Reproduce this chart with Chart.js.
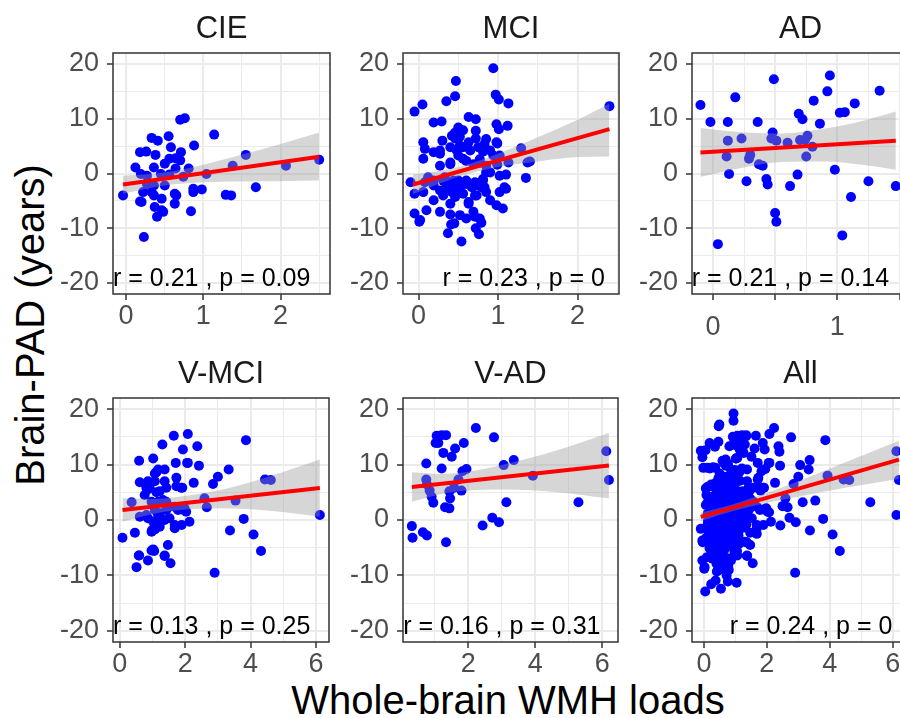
<!DOCTYPE html>
<html>
<head>
<meta charset="utf-8">
<script src="https://cdn.jsdelivr.net/npm/chart.js@4.4.0/dist/chart.umd.min.js"></script>
<style>
  html, body { margin: 0; padding: 0; overflow: hidden; background: #fff; }
  #wrap { position: relative; width: 900px; height: 718px; overflow: hidden; background: #fff; }
  canvas { position: absolute; }
  .axtitle { position: absolute; font-family: 'Liberation Sans', Arial, sans-serif; font-size: 40px; color: #000; white-space: nowrap; }
  #ytitle { left: 30px; top: 325px; transform: translate(-50%, -50%) rotate(-90deg); }
  #xtitle { left: 508px; top: 700px; transform: translate(-50%, -50%); }
</style>
</head>
<body>
<div id="wrap">
  <div class="axtitle" id="ytitle">Brain-PAD (years)</div>
  <div class="axtitle" id="xtitle">Whole-brain WMH loads</div>
</div>
<script>
// ---- data ----
const panelNames = ['CIE', 'MCI', 'AD', 'V-MCI', 'V-AD', 'All'];
const statLabels = ['r = 0.21 , p = 0.09', 'r = 0.23 , p = 0', 'r = 0.21 , p = 0.14',
                    'r = 0.13 , p = 0.25', 'r = 0.16 , p = 0.31', 'r = 0.24 , p = 0'];
const statX = [-0.17, 0.3, -0.17, -0.21, 0.06, 0.82];
const statY = -19.3;

const yMajor = [-20, -10, 0, 10, 20];
const yMinor = [-15, -5, 5, 15];
const yRange = [-22, 22];

const xRanges = [[-0.17, 2.64], [-0.195, 2.52], [-0.168, 1.576], [-0.21, 6.4], [0.056, 6.47], [-0.38, 6.52]];
const xMajor = [[0, 1, 2], [0, 1, 2], [0, 0.5, 1, 1.5], [0, 2, 4, 6], [2, 4, 6], [0, 2, 4, 6]];
const xMinor = [[0.5, 1.5, 2.5], [0.5, 1.5, 2.5], [0.25, 0.75, 1.25], [1, 3, 5], [1, 3, 5], [1, 3, 5]];
const xLabelled = [[0, 1, 2], [0, 1, 2], [0, 1], [0, 2, 4, 6], [2, 4, 6], [0, 2, 4, 6]];

const ciePoints = [[-0.04,-4.0],[0.23,-11.6],[0.70,9.8],[0.76,10.1],[1.14,7.1],[0.33,6.5],[0.41,6.0],[0.55,6.8],
  [0.88,5.1],[0.18,3.9],[0.26,4.0],[0.38,3.4],[0.58,4.8],[0.71,3.9],[0.56,2.7],[0.64,2.8],[0.70,2.4],[0.50,1.8],
  [0.12,1.1],[0.36,1.1],[0.64,0.9],[0.81,0.9],[0.19,-0.1],[0.27,-0.4],[0.45,-0.1],[0.56,-0.2],[0.74,-0.6],
  [1.04,-0.1],[1.38,1.4],[1.55,3.4],[2.07,1.4],[2.50,2.5],[1.68,-2.5],[0.27,-1.9],[0.36,-2.2],[0.50,-2.2],
  [0.22,-3.4],[0.33,-3.4],[0.63,-3.7],[0.87,-2.8],[0.98,-2.9],[0.87,-3.4],[1.29,-3.9],[1.36,-4.0],[0.18,-5.1],
  [0.36,-4.0],[0.46,-4.6],[0.63,-5.5],[0.37,-6.1],[0.46,-6.7],[0.40,-7.9],[0.48,-7.0],[0.84,-6.9],[0.65,-4.0],[0.20,-5.2]];

const mciPoints = [[0.94,19.2],[0.47,16.9],[0.46,14.1],[0.35,13.2],[-0.05,11.3],[0.05,12.6],[0.97,14.4],[1.01,13.5],
  [1.13,12.8],[0.19,9.3],[0.29,9.5],[0.63,10.3],[0.72,9.9],[0.50,8.4],[0.56,7.9],[0.98,9.0],[1.01,8.1],[1.12,8.7],
  [0.06,5.7],[0.08,4.5],[0.30,6.0],[0.42,6.9],[0.46,7.5],[0.52,6.7],[0.72,7.8],[0.85,6.3],[0.83,5.4],[0.98,5.7],
  [0.46,6.4],[0.72,6.4],[0.99,5.5],[0.06,2.7],[0.19,3.9],[0.27,4.2],[0.40,4.8],[0.48,4.2],[0.56,4.8],[0.65,4.2],
  [0.75,4.8],[0.81,4.0],[0.90,4.2],[1.29,4.6],[1.40,2.2],[0.52,5.1],[0.63,5.7],[0.27,3.6],[0.94,3.3],[0.27,1.4],
  [0.40,2.0],[0.50,3.3],[0.60,2.3],[0.69,1.7],[0.77,2.6],[0.85,0.2],[0.99,1.6],[1.13,2.0],[1.10,-0.2],[1.35,-0.8],
  [0.56,2.7],[0.77,2.0],[0.85,1.4],[1.02,3.3],[1.37,2.0],[0.40,1.7],[-0.10,-1.6],[-0.05,-3.7],[0.06,-3.4],[0.12,-0.7],
  [0.19,-4.9],[0.27,-3.1],[0.35,-2.5],[0.46,-4.3],[0.56,-3.7],[0.67,-2.5],[0.73,-4.0],[0.19,-1.3],[0.33,-0.7],
  [0.44,-1.3],[0.52,-2.5],[0.60,-1.3],[0.71,-2.2],[0.81,-1.3],[0.08,-1.6],[0.19,-2.2],[0.31,-1.3],[0.42,-1.9],
  [0.50,-1.3],[0.60,-1.9],[0.71,-1.6],[0.81,-1.0],[0.90,0.2],[1.02,-0.4],[0.83,-2.5],[0.90,-4.9],[0.98,-5.8],
  [1.06,-6.4],[1.02,-3.4],[1.08,-2.5],[0.31,-4.0],[0.42,-3.4],[0.52,-2.8],[0.63,-5.2],[0.71,-4.0],[0.79,-2.5],
  [0.85,-3.4],[1.10,-2.8],[-0.05,-7.3],[0.01,-8.8],[0.10,-6.7],[0.27,-7.0],[0.40,-5.5],[0.52,-7.6],[0.63,-5.5],
  [0.69,-7.0],[0.71,-7.9],[0.79,-9.0],[0.40,-7.5],[0.60,-8.2],[0.77,-8.2],[0.02,-8.5],[0.41,-9.3],[0.37,-10.9],
  [0.72,-10.0],[0.76,-11.1],[0.54,-12.4],[0.45,-9.1],[2.40,12.3]];

const adPoints = [[-0.10,12.5],[-0.02,9.4],[0.04,-12.9],[0.12,9.4],[0.18,13.9],[0.12,6.0],[0.11,3.1],[0.13,-0.1],
  [0.23,6.4],[0.27,-1.4],[0.30,3.4],[0.29,2.7],[0.36,9.4],[0.37,1.7],[0.40,1.4],[0.43,-1.0],[0.44,-2.0],[0.49,17.2],
  [0.48,7.5],[0.47,6.4],[0.51,6.0],[0.50,-7.2],[0.51,-8.8],[0.60,5.6],[0.62,-2.3],[0.68,-0.2],[0.69,10.9],
  [0.72,9.9],[0.70,6.1],[0.74,6.1],[0.75,3.1],[0.80,4.9],[0.76,6.9],[0.81,13.3],[0.86,9.1],[0.92,15.0],[0.94,17.9],
  [0.98,0.7],[1.02,11.1],[1.06,11.2],[1.04,-11.3],[1.11,-4.3],[1.14,12.8],[1.25,-1.4],[1.34,15.1],[1.47,-2.3]];

const vmciPoints = [[0.08,-3.2],[0.36,3.2],[0.46,-2.3],[0.51,-8.5],[0.59,-6.4],[0.59,10.7],[0.61,6.8],[0.86,-7.3],
  [0.97,-5.5],[1.05,-5.6],[1.02,11.1],[0.81,5.8],[0.76,4.5],[0.91,5.8],[0.61,0.6],[0.81,0.9],[0.97,-2.1],[1.07,-1.7],
  [1.07,8.4],[1.17,9.1],[1.30,13.6],[1.37,9.1],[1.37,7.0],[1.42,5.8],[1.22,5.2],[1.32,3.6],[1.17,3.3],[1.07,1.8],
  [1.22,1.2],[1.42,1.8],[1.02,-0.3],[1.17,-0.6],[1.37,0.0],[1.52,0.3],[1.37,-6.5],[1.55,-7.8],[1.47,-4.5],[1.65,15.2],
  [1.71,10.3],[1.73,7.6],[1.73,6.1],[1.91,5.8],[1.68,2.4],[1.89,1.9],[1.68,-1.5],[1.89,-0.9],[2.13,-0.3],[1.52,2.4],
  [1.93,12.7],[2.08,15.5],[2.08,10.3],[2.26,6.7],[2.37,13.3],[2.42,9.8],[2.59,3.9],[2.66,2.3],[2.85,6.5],[3.00,7.8],
  [2.90,-9.5],[3.33,9.1],[3.37,-1.9],[3.54,3.5],[3.79,0.2],[3.86,14.4],[4.09,-2.6],[4.32,-5.6],[4.44,7.3],[4.62,7.2],
  [6.12,0.9],[0.86,7.0],[1.07,7.0],[0.86,5.5],[1.12,5.0],[0.97,3.3],[1.42,3.3],[1.98,2.1],[0.86,0.3],[1.17,0.9],
  [1.78,1.8],[2.03,1.5],[1.68,-0.9],[0.99,-1.8],[1.22,-1.2],[1.02,-5.3],[0.58,-6.4],[1.37,-6.4],[1.12,8.6],[2.06,10.3],
  [1.88,5.8]];

const vadPoints = [[0.32,-1.1],[0.34,-3.2],[0.65,-2.2],[0.77,-2.8],[0.75,10.2],[0.75,7.3],[0.77,6.4],[0.85,5.3],
  [0.91,4.2],[0.96,3.1],[1.06,15.2],[1.21,15.3],[1.34,15.3],[1.03,13.9],[1.11,13.9],[1.21,9.3],[1.26,12.1],[1.31,2.3],
  [1.34,-4.0],[1.44,5.2],[1.46,3.9],[1.44,2.1],[1.51,11.4],[1.61,12.9],[1.58,5.8],[1.71,7.3],[1.80,5.3],[1.83,8.8],
  [1.95,9.2],[1.87,13.9],[2.23,16.6],[2.43,-1.0],[2.72,0.4],[2.92,-0.4],[2.77,14.9],[3.06,9.9],[3.14,3.2],[3.36,10.8],
  [3.93,8.0],[5.29,3.2],[6.12,12.4],[6.20,7.2]];

// "All" pools every group
const allPoints = [].concat(ciePoints, mciPoints, adPoints, vmciPoints, vadPoints);
const pointSets = [ciePoints, mciPoints, adPoints, vmciPoints, vadPoints, allPoints];

// fitted line ends and ribbon
const fitX = [[-0.04, 2.50], [-0.07, 2.40], [-0.10, 1.47], [0.08, 6.12], [0.32, 6.20], [-0.10, 6.20]];
const fitY = [[-2.0, 3.05], [-2.0, 8.1], [3.85, 5.98], [1.82, 5.76], [5.94, 9.82], [0.55, 10.9]];
const bandX = [[-0.04, 0.5, 1.0, 1.5, 2.0, 2.5], [-0.07, 0.5, 1.0, 1.5, 2.0, 2.4], [-0.10, 0.25, 0.55, 0.9, 1.2, 1.47],
               [0.08, 1, 1.7, 3, 4.5, 6.12], [0.32, 1.2, 2, 3, 4.5, 6.2], [-0.10, 0.9, 2, 3, 4.5, 6.2]];
const bandLo = [[-3.7, -2.2, -1.6, -1.45, -1.4, -1.3], [-3.8, -0.6, 1.2, 2.2, 3.0, 3.1], [-0.6, 1.1, 2.1, 2.2, 1.6, 0.7],
                [-0.3, 1.1, 1.7, 2.1, 1.7, 0.6], [3.3, 4.7, 5.3, 5.5, 5.1, 3.9], [-0.2, 1.6, 3.1, 4.2, 5.8, 7.4]];
const bandHi = [[-0.4, 0.2, 1.6, 3.45, 5.4, 7.5], [-0.2, 1.2, 3.6, 6.6, 9.8, 12.8], [8.3, 7.5, 7.3, 8.2, 9.6, 11.3],
                [3.9, 3.8, 4.1, 5.3, 7.7, 10.9], [8.6, 8.3, 8.7, 9.9, 12.3, 15.7], [1.3, 2.8, 4.9, 7.0, 10.4, 14.3]];

// ---- layout ----
const frameLeft = [113, 402.7, 692, 113, 402.7, 692];
const frameTop = [53, 53, 53, 398, 398, 398];
const frameW = [218, 217.3, 218, 217, 216.6, 218];
const frameH = [241, 241, 241, 244, 244, 244];
const Y_AXIS_W = 60, TOP_SPACE = 45, RIGHT_PAD = 4;
const FONT = "'Liberation Sans', Arial, sans-serif";

Chart.defaults.font.family = FONT;

const panelDecor = {
    id: 'panelDecor',
    afterDraw(chart, args, opts) {
        const { ctx, chartArea: a, scales } = chart;
        ctx.save();
        // panel border
        ctx.strokeStyle = '#333333';
        ctx.lineWidth = 1.5;
        ctx.strokeRect(a.left, a.top, a.right - a.left, a.bottom - a.top);
        // strip title
        ctx.fillStyle = '#1A1A1A';
        ctx.font = '31px ' + FONT;
        ctx.textAlign = 'center';
        ctx.textBaseline = 'alphabetic';
        ctx.fillText(opts.title, (a.left + a.right) / 2, a.top - 15);
        // correlation label
        ctx.fillStyle = '#000';
        ctx.font = '25px ' + FONT;
        ctx.textAlign = 'left';
        ctx.textBaseline = 'middle';
        ctx.fillText(opts.stat, scales.x.getPixelForValue(opts.statX), scales.y.getPixelForValue(statY));
        ctx.restore();
    }
};

function tickSet(major, minor, lo, hi) {
    return major.concat(minor).filter(v => v >= lo && v <= hi).sort((a, b) => a - b);
}

function makePanel(i) {
    const wrap = document.getElementById('wrap');
    const canvas = document.createElement('canvas');
    const xAxisH = i === 2 ? 62 : 50;
    const w = Y_AXIS_W + frameW[i] + RIGHT_PAD;
    const h = TOP_SPACE + frameH[i] + xAxisH;
    canvas.width = w; canvas.height = h;
    canvas.style.width = w + 'px'; canvas.style.height = h + 'px';
    canvas.style.left = (frameLeft[i] - Y_AXIS_W) + 'px';
    canvas.style.top = (frameTop[i] - TOP_SPACE) + 'px';
    wrap.appendChild(canvas);

    const [xlo, xhi] = xRanges[i];
    const xTicks = tickSet(xMajor[i], xMinor[i], xlo, xhi);
    const yTicks = tickSet(yMajor, yMinor, yRange[0], yRange[1]);
    const isMajX = v => xMajor[i].includes(v);
    const isMajY = v => yMajor.includes(v);

    const pts = pointSets[i].map(p => ({ x: p[0], y: p[1] }));
    const hiData = bandX[i].map((x, k) => ({ x: x, y: bandHi[i][k] }));
    const loData = bandX[i].map((x, k) => ({ x: x, y: bandLo[i][k] }));
    const lineData = fitX[i].map((x, k) => ({ x: x, y: fitY[i][k] }));

    new Chart(canvas, {
        type: 'scatter',
        data: {
            datasets: [
                { data: pts, order: 3, pointRadius: 5, pointHoverRadius: 5, pointBorderWidth: 0,
                  pointBackgroundColor: '#0000FF', backgroundColor: '#0000FF' },
                { type: 'line', data: hiData, order: 2, borderWidth: 0, pointRadius: 0, fill: false,
                  tension: 0.4, cubicInterpolationMode: 'monotone', borderColor: 'rgba(0,0,0,0)' },
                { type: 'line', data: loData, order: 2, borderWidth: 0, pointRadius: 0, fill: '-1',
                  backgroundColor: 'rgba(153,153,153,0.4)', tension: 0.4, cubicInterpolationMode: 'monotone',
                  borderColor: 'rgba(0,0,0,0)' },
                { type: 'line', data: lineData, order: 1, borderWidth: 4, borderColor: '#FF0000',
                  pointRadius: 0, fill: false }
            ]
        },
        options: {
            responsive: false,
            animation: false,
            devicePixelRatio: 1,
            layout: { padding: { left: 0, top: TOP_SPACE, right: RIGHT_PAD, bottom: 0 } },
            scales: {
                x: {
                    type: 'linear', min: xlo, max: xhi,
                    afterBuildTicks: s => { s.ticks = xTicks.map(v => ({ value: v })); },
                    afterFit: s => { s.height = xAxisH; },
                    border: { display: false },
                    grid: {
                        color: '#EBEBEB',
                        lineWidth: c => (c.tick && isMajX(c.tick.value)) ? 2 : 1,
                        tickColor: c => (c.tick && isMajX(c.tick.value)) ? '#333333' : 'rgba(0,0,0,0)',
                        tickLength: 6, tickWidth: 1.5
                    },
                    ticks: {
                        autoSkip: false, maxRotation: 0, padding: i === 2 ? 11 : 0,
                        color: '#4D4D4D', font: { size: 27 },
                        callback: v => xLabelled[i].includes(v) ? String(v) : ''
                    }
                },
                y: {
                    type: 'linear', min: yRange[0], max: yRange[1],
                    afterBuildTicks: s => { s.ticks = yTicks.map(v => ({ value: v })); },
                    afterFit: s => { s.width = Y_AXIS_W; },
                    border: { display: false },
                    grid: {
                        color: '#EBEBEB',
                        lineWidth: c => (c.tick && isMajY(c.tick.value)) ? 2 : 1,
                        tickColor: c => (c.tick && isMajY(c.tick.value)) ? '#333333' : 'rgba(0,0,0,0)',
                        tickLength: 6, tickWidth: 1.5
                    },
                    ticks: {
                        autoSkip: false, padding: 8, color: '#4D4D4D', font: { size: 27 },
                        callback: v => isMajY(v) ? String(v) : ''
                    }
                }
            },
            plugins: {
                legend: { display: false },
                tooltip: { enabled: false },
                title: { display: false },
                panelDecor: { title: panelNames[i], stat: statLabels[i], statX: statX[i] }
            }
        },
        plugins: [panelDecor]
    });
}

for (let i = 0; i < panelNames.length; i++) makePanel(i);
</script>
</body>
</html>
